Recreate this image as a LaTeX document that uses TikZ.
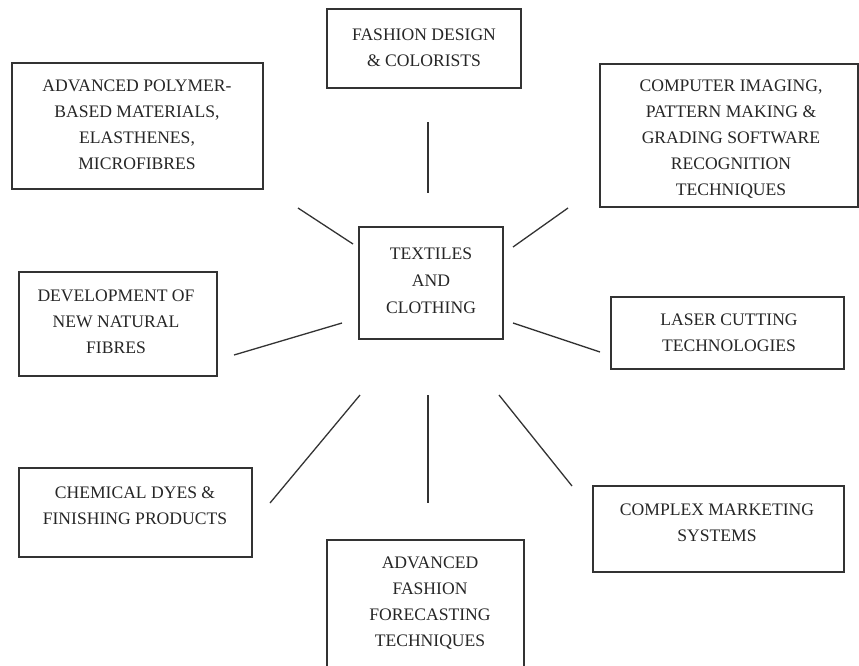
\documentclass[tikz,border=0pt]{standalone}
\usepackage{fontspec}
\setmainfont{Liberation Serif}
\begin{document}
\begin{tikzpicture}[x=1pt,y=-1pt,
  box/.style={draw=black!80,line width=1.3pt,inner sep=0pt},
  txt/.style={text=black!85,font=\fontsize{17.6}{26}\selectfont,align=center,inner sep=0pt},
  spoke/.style={draw=black!80,line width=1.3pt}]
\useasboundingbox (0,0) rectangle (859,665);
\clip (0,0) rectangle (859,665);

% boxes
\draw[box] (327,9) rectangle (521,88);
\draw[box] (12,63) rectangle (263,189);
\draw[box] (600,64) rectangle (858,207);
\draw[box] (359,227) rectangle (503,339);
\draw[box] (19,272) rectangle (217,376);
\draw[box] (611,297) rectangle (844,369);
\draw[box] (19,468) rectangle (252,557);
\draw[box] (593,486) rectangle (844,572);
\draw[box] (327,540) rectangle (524,700);

% labels
\node[txt] (tfashion) at (424,48) {FASHION DESIGN\\\& COLORISTS};
\node[txt] (tpolymer) at (137,125) {ADVANCED POLYMER-\\BASED MATERIALS,\\ELASTHENES,\\MICROFIBRES};
\node[txt] (tcomputer) at (731,139) {COMPUTER IMAGING,\\PATTERN MAKING \&\\GRADING SOFTWARE\\RECOGNITION\\TECHNIQUES};
\node[txt,font=\fontsize{17.6}{27}\selectfont] (tcenter) at (431,281) {TEXTILES\\AND\\CLOTHING};
\node[txt] (tnatural) at (116,322) {DEVELOPMENT OF\\NEW NATURAL\\FIBRES};
\node[txt] (tlaser) at (729,333) {LASER CUTTING\\TECHNOLOGIES};
\node[txt] (tchem) at (135,506) {CHEMICAL DYES \&\\FINISHING PRODUCTS};
\node[txt] (tmarket) at (717,523) {COMPLEX MARKETING\\SYSTEMS};
\node[txt] (tforecast) at (430,603) {ADVANCED\\FASHION\\FORECASTING\\TECHNIQUES};

% spoke end points
\coordinate (n1) at (428,122);  \coordinate (n2) at (428,193);
\coordinate (nw1) at (298,208); \coordinate (nw2) at (353,244);
\coordinate (ne1) at (513,247); \coordinate (ne2) at (568,208);
\coordinate (w1) at (234,355);  \coordinate (w2) at (342,323);
\coordinate (e1) at (513,323);  \coordinate (e2) at (600,352);
\coordinate (sw1) at (360,395); \coordinate (sw2) at (270,503);
\coordinate (s1) at (428,395);  \coordinate (s2) at (428,503);
\coordinate (se1) at (499,395); \coordinate (se2) at (572,486);

% spokes
\draw[spoke] (n1) -- (n2);
\draw[spoke] (nw1) -- (nw2);
\draw[spoke] (ne1) -- (ne2);
\draw[spoke] (w1) -- (w2);
\draw[spoke] (e1) -- (e2);
\draw[spoke] (sw1) -- (sw2);
\draw[spoke] (s1) -- (s2);
\draw[spoke] (se1) -- (se2);
\end{tikzpicture}
\end{document}
